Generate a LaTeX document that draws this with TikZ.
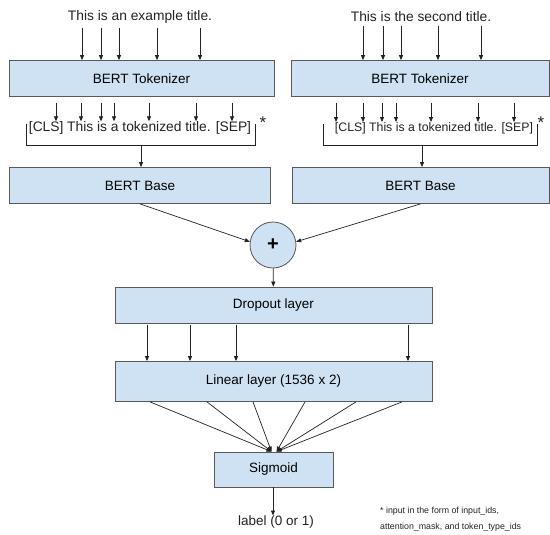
\documentclass[tikz,border=0pt]{standalone}
\usepackage{fontspec}
\setmainfont{Liberation Sans}
\usetikzlibrary{arrows.meta,positioning}
\definecolor{boxfill}{HTML}{CFE2F3}
\definecolor{boxline}{HTML}{595959}
\definecolor{ink}{HTML}{222222}

\begin{document}
\begin{tikzpicture}[
        x=1pt, y=-1pt,
        layer/.style={draw=boxline, line width=0.8pt, fill=boxfill, inner sep=0pt,
            minimum height=36pt, font=\fontsize{13.5}{15}\selectfont},
        txt/.style={inner sep=0pt, text=ink, font=\fontsize{13.8}{16}\selectfont},
        arr/.style={-{Triangle[length=5pt,width=4pt]}, draw=ink, line width=0.7pt},
        wire/.style={draw=ink, line width=0.7pt}
    ]
    \useasboundingbox (0,0) rectangle (550,535);

    % left branch
    \node[txt] (title1) at (140,17) {This is an example title.};
    \node[layer, minimum width=265pt] (tok1) at (141.5,78.5) {BERT Tokenizer};
    \node[txt] (tokens1) at (140,128) {[CLS] This is a tokenized title. [SEP]};
    \node[txt, font=\fontsize{17}{17}\selectfont] (star1) at (263,123) {*};
    \coordinate (brk1) at (141,145);
    \node[layer, minimum width=261pt] (base1) at (140,185.5) {BERT Base};

    % right branch
    \node[txt] (title2) at (421,17) {This is the second title.};
    \node[layer, minimum width=258pt] (tok2) at (420,78.5) {BERT Tokenizer};
    \node[txt, font=\fontsize{12.3}{14}\selectfont] (tokens2) at (434,128) {[CLS] This is a tokenized title. [SEP]};
    \node[txt, font=\fontsize{17}{17}\selectfont] (star2) at (541,123) {*};
    \coordinate (brk2) at (422,145);
    \node[layer, minimum width=257pt] (base2) at (420.5,185.5) {BERT Base};

    \foreach \x in {82,101,119,157,200}
        \draw[arr, shorten <=4pt] (title1.south -| \x,0) -- (tok1.north -| \x,0);
    \foreach \x in {363,383,401,438,481}
        \draw[arr, shorten <=4pt] (title2.south -| \x,0) -- (tok2.north -| \x,0);
    \foreach \x in {56,81,101,114,149,196,232}
        \draw[arr, shorten <=6pt] (tok1.south -| \x,0) -- (tokens1.north -| \x,0);
    \foreach \x in {336,363,382,396,431,478,514}
        \draw[arr, shorten <=6pt] (tok2.south -| \x,0) -- (tokens2.north -| \x,0);

    \draw[wire] (26,124) |- (255,145) -- (255,124);
    \draw[wire] (323,124) |- (537,145) -- (537,124);
    \draw[arr] (brk1) -- (base1.north -| brk1);
    \draw[arr] (brk2) -- (base2.north -| brk2);

    % merge
    \node[circle, draw=boxline, line width=0.8pt, fill=boxfill, minimum size=46pt, inner sep=0pt,
        font=\fontsize{20}{20}\selectfont\bfseries] (plus) at (273,245) {+};
    \draw[arr] (base1.south) -- (plus.172);
    \draw[arr] (base2.south) -- (plus.8);

    \node[layer, minimum width=317pt] (drop) at (273.5,305) {Dropout layer};
    \draw[arr] (plus) -- (drop);

    \node[layer, minimum width=317pt, minimum height=40pt] (lin) at (273.5,381.5) {Linear layer (1536 x 2)};
    \foreach \x in {147,190,236,408}
        \draw[arr, shorten <=2pt] (drop.south -| \x,0) -- (lin.north -| \x,0);

    \node[layer, minimum width=119pt, minimum height=35pt] (sig) at (273.5,469.5) {Sigmoid};
    \foreach \x in {150,207,253}
        \draw[arr] (lin.south -| \x,0) -- ([xshift=-2pt]sig.north);
    \foreach \x in {305,356,402}
        \draw[arr] (lin.south -| \x,0) -- ([xshift=3pt]sig.north);

    \node[txt, font=\fontsize{13.5}{16}\selectfont] (label) at (276,522) {label (0 or 1)};
    \draw[arr] (sig.south -| 273,0) -- (label.north -| 273,0);

    \node[txt, align=left, anchor=west, font=\fontsize{8.8}{15.5}\selectfont] (note) at (380,519)
        {* input in the form of input\_ids,\\attention\_mask, and token\_type\_ids};
\end{tikzpicture}
\end{document}
